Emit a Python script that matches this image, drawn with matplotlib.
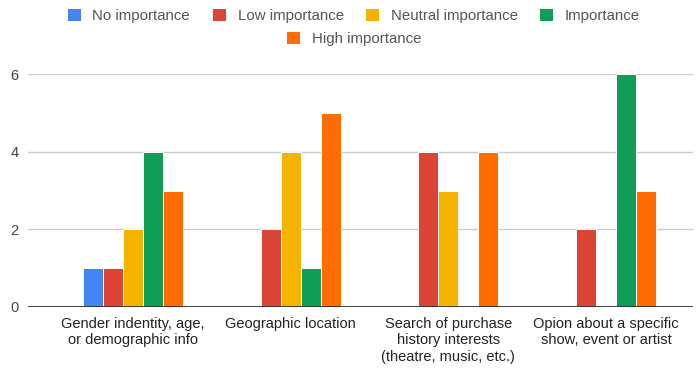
import numpy as np
import matplotlib.pyplot as plt
from matplotlib.patches import Patch

plt.rcParams['font.family'] = ['Liberation Sans', 'DejaVu Sans']

categories = ['Gender indentity, age,\nor demographic info',
              'Geographic location',
              'Search of purchase\nhistory interests\n(theatre, music, etc.)',
              'Opion about a specific\nshow, event or artist']
series = ['No importance', 'Low importance', 'Neutral importance',
          'Importance', 'High importance']
no_importance = [1, 0, 0, 0]
low_importance = [1, 2, 4, 2]
neutral_importance = [2, 4, 3, 0]
importance = [4, 1, 0, 6]
high_importance = [3, 5, 4, 3]
colors = ['#4285F4', '#DB4437', '#F4B400', '#0F9D58', '#FF6D01']

values = [no_importance, low_importance, neutral_importance,
          importance, high_importance]

fig = plt.figure(figsize=(6.99, 3.68), dpi=100)
ax = fig.add_axes([28 / 699, 61 / 368, 665 / 699, 233 / 368])

x = np.arange(len(categories))
step = 0.1266
for i, (vals, col) in enumerate(zip(values, colors)):
    ax.bar(x + (i - 2) * step, vals, width=step, color=col,
           edgecolor='white', linewidth=0.7, zorder=3)

ax.set_xlim(-0.5 - 26 / 158, 3.5 + 8 / 158)
ax.set_ylim(0, 6)
ax.set_yticks([0, 2, 4, 6])
ax.grid(axis='y', color='#cccccc', linewidth=1, zorder=0)
ax.axhline(0, color='#333333', linewidth=1.3, zorder=4)
for s in ax.spines.values():
    s.set_visible(False)
ax.tick_params(axis='both', length=0)
ax.tick_params(axis='y', labelsize=10.5, labelcolor='#444444', pad=7)
ax.set_xticks(x)
ax.set_xticklabels(categories, fontsize=10.5, color='#222222',
                   linespacing=1.25, va='top')
ax.tick_params(axis='x', pad=7)

# two-row legend, both rows centred over the plot
handles = [Patch(facecolor=c, edgecolor='none') for c in colors]
leg_kw = dict(frameon=False, fontsize=10.8, handlelength=0.85,
              handleheight=0.85, handletextpad=0.8, columnspacing=1.5,
              labelcolor='#555555', borderaxespad=0)
fig.legend(handles[:4], series[:4], ncol=4, loc='center',
           bbox_to_anchor=(354 / 699, 1 - 16 / 368), **leg_kw)
fig.legend(handles[4:], series[4:], ncol=1, loc='center',
           bbox_to_anchor=(354 / 699, 1 - 39 / 368), **leg_kw)

fig.savefig('out.png', dpi=100)
